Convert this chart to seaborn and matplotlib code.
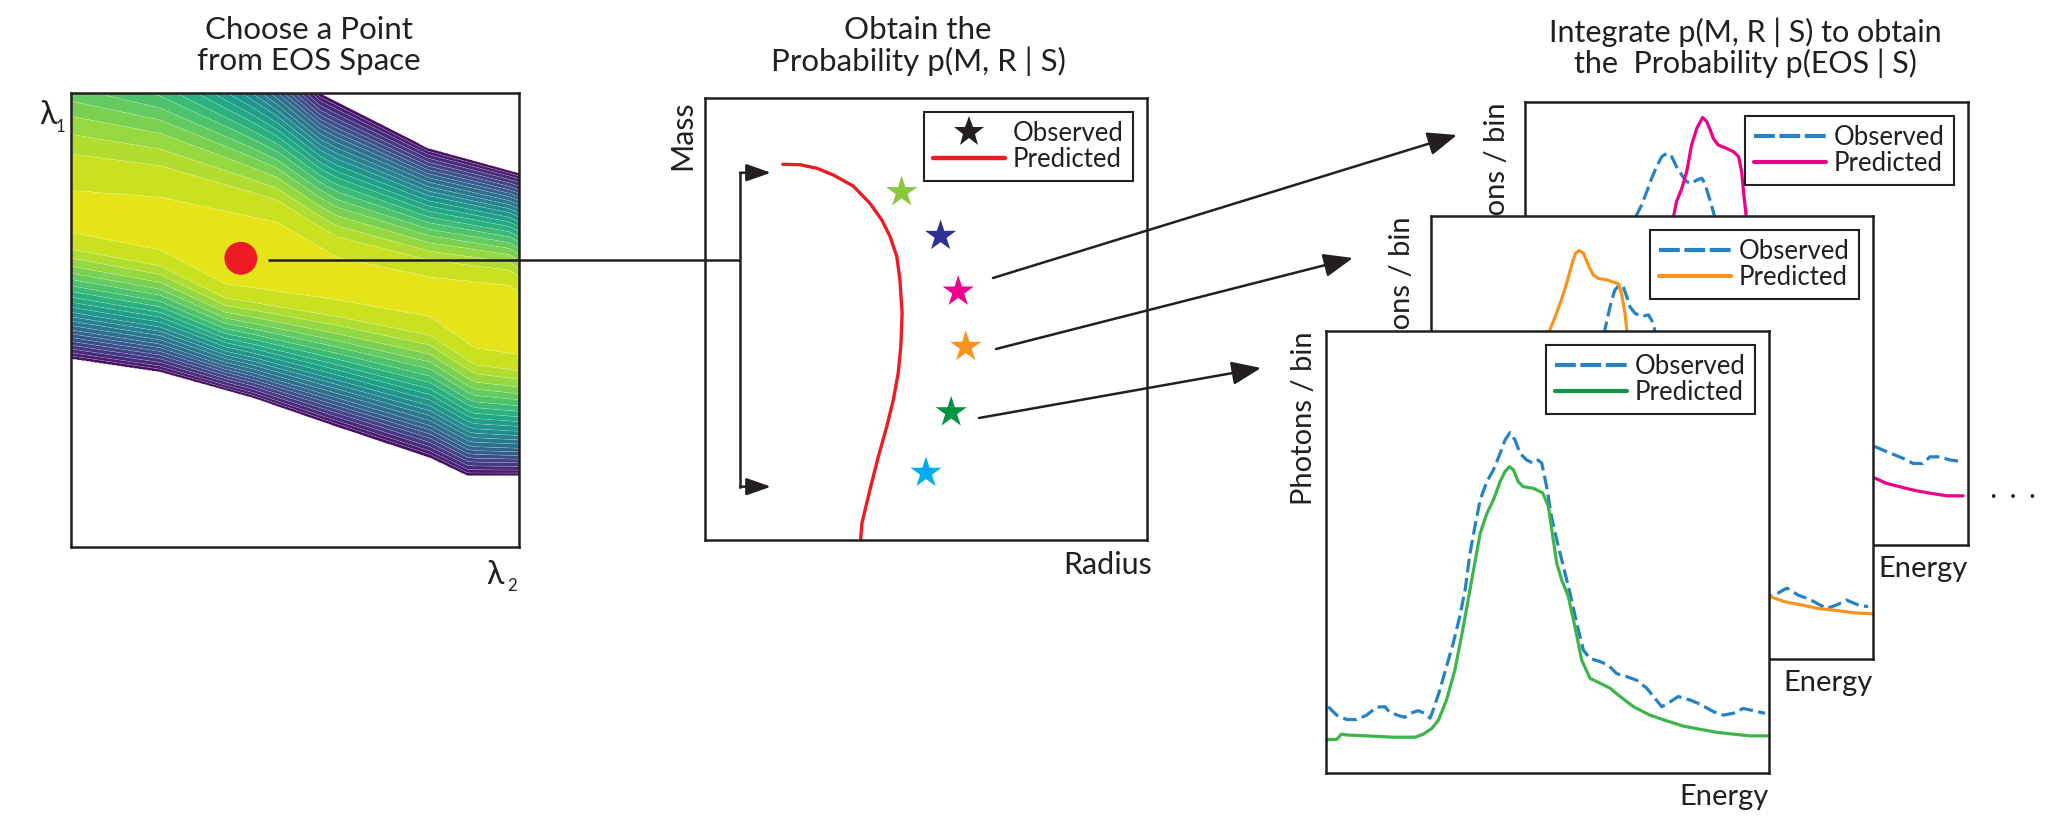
import numpy as np
import pandas as pd
import matplotlib
matplotlib.use("Agg")
import matplotlib.pyplot as plt
import seaborn as sns
from matplotlib.patches import FancyArrowPatch
from matplotlib.lines import Line2D

# ===================== DATA =====================
# Panel 1: EOS space ridge (lambda2 0..1 left->right, lambda1 0..1 bottom->top)
ridge_top_l2 = [0.0, 0.199, 0.460, 0.594, 0.801, 0.978, 1.0]
ridge_top_l1 = [0.786, 0.771, 0.716, 0.639, 0.595, 0.577, 0.562]
ridge_bot_l2 = [0.0, 0.199, 0.344, 0.594, 0.801, 0.902, 1.0]
ridge_bot_l1 = [0.692, 0.654, 0.579, 0.544, 0.507, 0.438, 0.423]
edge_up_l2 = [0.0, 0.199, 0.40, 0.556, 0.797, 1.0]
edge_up_l1 = [1.40, 1.30, 1.14, 1.0, 0.879, 0.824]
edge_lo_l2 = [0.0, 0.199, 0.406, 0.594, 0.801, 0.886, 1.0]
edge_lo_l1 = [0.414, 0.385, 0.328, 0.264, 0.196, 0.156, 0.156]
# normalised distances (ridge -> edge) of the contour band boundaries
band_edges = [0.0001, 0.13, 0.20, 0.265, 0.32, 0.37, 0.42, 0.465, 0.51, 0.55,
              0.59, 0.63, 0.665, 0.70, 0.735, 0.77, 0.80, 0.83, 0.86, 0.89,
              0.92, 0.95, 0.975, 1.0]
chosen_l2, chosen_l1 = 0.379, 0.636

# Panel 2: mass-radius curve and observed stars (normalised units)
mr_radius = [0.176, 0.215, 0.253, 0.290, 0.335, 0.373, 0.400, 0.419, 0.434, 0.441,
             0.446, 0.443, 0.437, 0.426, 0.411, 0.392, 0.373, 0.355, 0.352]
mr_mass = [0.850, 0.849, 0.841, 0.826, 0.801, 0.762, 0.724, 0.686, 0.641, 0.588,
           0.513, 0.437, 0.377, 0.317, 0.256, 0.188, 0.113, 0.038, 0.0]
star_names = ["s1", "s2", "s3", "s4", "s5", "s6"]
star_radius = [0.445, 0.533, 0.573, 0.590, 0.557, 0.500]
star_mass = [0.787, 0.688, 0.562, 0.437, 0.289, 0.152]
star_colors = ["#8dc63f", "#2e3192", "#ec008c", "#f7941d", "#009444", "#00aeef"]

# Panel 3: spectra (energy 0..1, photons/bin 0..1)
front_pred_E = [0.0015, 0.024, 0.035, 0.047, 0.092, 0.152, 0.201, 0.220, 0.239, 0.254,
                0.272, 0.291, 0.310, 0.329, 0.348, 0.363, 0.378, 0.393, 0.404, 0.414,
                0.423, 0.434, 0.445, 0.468, 0.489, 0.502, 0.513, 0.521, 0.532, 0.547,
                0.562, 0.577, 0.596, 0.619, 0.641, 0.664, 0.694, 0.731, 0.769, 0.807,
                0.844, 0.882, 0.919, 0.957, 0.998]
front_pred_C = [0.076, 0.076, 0.088, 0.086, 0.084, 0.081, 0.081, 0.088, 0.101, 0.120,
                0.165, 0.233, 0.331, 0.437, 0.542, 0.587, 0.618, 0.659, 0.682, 0.693,
                0.686, 0.659, 0.648, 0.644, 0.634, 0.603, 0.527, 0.474, 0.437, 0.399,
                0.331, 0.256, 0.214, 0.203, 0.192, 0.173, 0.150, 0.131, 0.118, 0.106,
                0.099, 0.092, 0.088, 0.084, 0.084]
front_obs_E = [0.005, 0.024, 0.047, 0.069, 0.092, 0.114, 0.133, 0.144, 0.167, 0.178,
               0.190, 0.208, 0.223, 0.235, 0.242, 0.257, 0.272, 0.287, 0.302, 0.314,
               0.325, 0.336, 0.348, 0.363, 0.378, 0.393, 0.404, 0.415, 0.427, 0.438,
               0.453, 0.468, 0.479, 0.487, 0.498, 0.509, 0.521, 0.536, 0.551, 0.566,
               0.581, 0.596, 0.619, 0.637, 0.656, 0.679, 0.701, 0.724, 0.739, 0.758,
               0.777, 0.795, 0.822, 0.844, 0.874, 0.897, 0.919, 0.942, 0.965, 0.991]
front_obs_C = [0.150, 0.131, 0.121, 0.121, 0.131, 0.149, 0.150, 0.137, 0.129, 0.126,
               0.135, 0.141, 0.135, 0.124, 0.143, 0.188, 0.241, 0.293, 0.354, 0.414,
               0.497, 0.557, 0.618, 0.659, 0.686, 0.723, 0.753, 0.770, 0.753, 0.723,
               0.708, 0.701, 0.708, 0.701, 0.648, 0.580, 0.527, 0.467, 0.406, 0.339,
               0.278, 0.259, 0.252, 0.244, 0.225, 0.218, 0.210, 0.192, 0.173, 0.150,
               0.161, 0.173, 0.165, 0.156, 0.139, 0.131, 0.135, 0.146, 0.141, 0.135]

mid_pred_E = [0.0, 0.05, 0.10, 0.15, 0.20, 0.24, 0.26, 0.269, 0.284, 0.296, 0.307, 0.318,
              0.327, 0.335, 0.345, 0.356, 0.367, 0.379, 0.397, 0.409, 0.424, 0.431, 0.439,
              0.443, 0.46, 0.48, 0.50, 0.53, 0.56, 0.60, 0.65, 0.70, 0.767, 0.801, 0.839,
              0.876, 0.914, 0.959, 1.0]
mid_pred_C = [0.08, 0.08, 0.08, 0.085, 0.10, 0.35, 0.60, 0.743, 0.780, 0.814, 0.848, 0.889,
              0.916, 0.922, 0.916, 0.889, 0.867, 0.859, 0.856, 0.852, 0.847, 0.825, 0.780,
              0.743, 0.55, 0.40, 0.30, 0.25, 0.21, 0.19, 0.17, 0.155, 0.141, 0.129, 0.122,
              0.114, 0.110, 0.104, 0.102]
mid_obs_E = [0.0, 0.05, 0.10, 0.15, 0.20, 0.25, 0.30, 0.34, 0.37, 0.385, 0.394, 0.400,
             0.407, 0.416, 0.426, 0.435, 0.443, 0.450, 0.462, 0.477, 0.492, 0.499, 0.505,
             0.52, 0.54, 0.57, 0.60, 0.65, 0.70, 0.74, 0.771, 0.805, 0.831, 0.854, 0.880,
             0.895, 0.918, 0.940, 0.967, 0.989]
mid_obs_C = [0.15, 0.13, 0.15, 0.14, 0.15, 0.14, 0.15, 0.20, 0.45, 0.65, 0.746, 0.773,
             0.803, 0.833, 0.844, 0.840, 0.818, 0.795, 0.780, 0.773, 0.777, 0.765, 0.750,
             0.60, 0.42, 0.28, 0.24, 0.21, 0.18, 0.16, 0.141, 0.160, 0.144, 0.136, 0.122,
             0.114, 0.122, 0.133, 0.122, 0.118]

back_pred_E = [0.0, 0.1, 0.2, 0.28, 0.31, 0.325, 0.336, 0.342, 0.354, 0.365, 0.376, 0.388,
               0.401, 0.410, 0.418, 0.425, 0.436, 0.451, 0.470, 0.482, 0.489, 0.494, 0.499,
               0.51, 0.53, 0.56, 0.60, 0.65, 0.70, 0.75, 0.790, 0.816, 0.876, 0.914, 0.952,
               0.989]
back_pred_C = [0.12, 0.12, 0.125, 0.14, 0.35, 0.60, 0.745, 0.775, 0.805, 0.843, 0.903, 0.941,
               0.965, 0.956, 0.937, 0.918, 0.903, 0.897, 0.888, 0.877, 0.843, 0.790, 0.745,
               0.50, 0.35, 0.27, 0.23, 0.20, 0.18, 0.165, 0.151, 0.139, 0.124, 0.117, 0.111,
               0.111]
back_obs_E = [0.0, 0.1, 0.2, 0.23, 0.245, 0.252, 0.263, 0.275, 0.286, 0.297, 0.309, 0.320,
              0.331, 0.342, 0.354, 0.365, 0.376, 0.388, 0.399, 0.406, 0.414, 0.421, 0.427,
              0.44, 0.46, 0.50, 0.55, 0.60, 0.65, 0.70, 0.75, 0.790, 0.816, 0.862, 0.876,
              0.898, 0.914, 0.937, 0.959, 0.989]
back_obs_C = [0.20, 0.19, 0.21, 0.40, 0.65, 0.745, 0.767, 0.798, 0.828, 0.854, 0.877, 0.884,
              0.877, 0.854, 0.835, 0.820, 0.816, 0.824, 0.828, 0.816, 0.790, 0.767, 0.745,
              0.55, 0.40, 0.30, 0.27, 0.25, 0.24, 0.235, 0.23, 0.222, 0.211, 0.192, 0.184,
              0.184, 0.199, 0.199, 0.192, 0.188]

# ===================== STYLE / LAYOUT =====================
INK = "#231f20"
RED = "#ed1c24"
BLUE = "#2681c5"
sns.set_theme(style="white")
plt.rcParams["font.family"] = ["Lato", "DejaVu Sans"]
plt.rcParams["text.color"] = INK

W, H = 2054, 822
fig = plt.figure(figsize=(W / 100, H / 100), dpi=100, facecolor="white")


def rect(l, t, r, b):
    return [l / W, 1 - b / H, (r - l) / W, (b - t) / H]


def frame(ax):
    ax.set_xlim(0, 1)
    ax.set_ylim(0, 1)
    ax.set_xticks([])
    ax.set_yticks([])
    ax.set_xlabel("")
    ax.set_ylabel("")
    ax.set_facecolor("white")
    for s in ax.spines.values():
        s.set_visible(True)
        s.set_color(INK)
        s.set_linewidth(1.8)


def box_legend(ax, handles, labels):
    leg = ax.legend(handles, labels, loc="upper right", fontsize=18.5, frameon=True,
                    fancybox=False, framealpha=1, edgecolor=INK, handlelength=2.8,
                    handletextpad=0.3, borderpad=0.35, labelspacing=0.05,
                    borderaxespad=0.55)
    leg.get_frame().set_linewidth(1.5)
    for t in leg.get_texts():
        t.set_color(INK)
    return leg


# ---------- Panel 1: EOS space ----------
ax1 = fig.add_axes(rect(71, 93, 519, 547))
l2 = np.linspace(0, 1, 700)
l1 = np.linspace(0, 1, 700)
X, Y = np.meshgrid(l2, l1)
yt = np.interp(l2, ridge_top_l2, ridge_top_l1)[None, :]
yb = np.interp(l2, ridge_bot_l2, ridge_bot_l1)[None, :]
zu = np.interp(l2, edge_up_l2, edge_up_l1)[None, :]
zl = np.interp(l2, edge_lo_l2, edge_lo_l1)[None, :]
T = np.where(Y > yt, (Y - yt) / (zu - yt), np.where(Y < yb, (yb - Y) / (yb - zl), 0.0))
Z = np.where(T <= 1.0, 1.0 - T, np.nan)
levels = sorted(1.0 - np.array(band_edges)) + [1.0 + 1e-6]
cols = sns.color_palette("viridis", len(levels) - 1)
ax1.contourf(X, Y, Z, levels=levels, colors=cols, antialiased=True)
ax1.contour(X, Y, Z, levels=levels[1:-1], colors="white", linewidths=0.5, alpha=0.25)
sns.scatterplot(x=[chosen_l2], y=[chosen_l1], color=RED, s=560, edgecolor="none",
                ax=ax1, zorder=6, legend=False)
frame(ax1)
ax1.text(-0.032, 0.952, "λ", transform=ax1.transAxes, ha="right", va="center", fontsize=23)
ax1.text(-0.014, 0.925, "1", transform=ax1.transAxes, ha="right", va="center", fontsize=12)
ax1.text(0.966, -0.062, "λ", transform=ax1.transAxes, ha="right", va="center", fontsize=23)
ax1.text(0.996, -0.085, "2", transform=ax1.transAxes, ha="right", va="center", fontsize=12)

# ---------- Panel 2: Mass-Radius ----------
ax2 = fig.add_axes(rect(705, 98, 1147, 540))
sns.lineplot(x=mr_radius, y=mr_mass, sort=False, estimator=None, color=RED, lw=2.4, ax=ax2)
sns.scatterplot(x=star_radius, y=star_mass, hue=star_names,
                palette=dict(zip(star_names, star_colors)), marker="*", s=560,
                edgecolor="none", legend=False, ax=ax2, zorder=5)
frame(ax2)
box_legend(ax2,
           [Line2D([0], [0], marker="*", ls="", color=INK, markersize=23, markeredgewidth=0),
            Line2D([0], [0], color=RED, lw=3.2)],
           ["Observed", "Predicted"])
ax2.text(-0.052, 0.995, "Mass", rotation=90, transform=ax2.transAxes, ha="center",
         va="top", fontsize=22)
ax2.text(1.012, -0.057, "Radius", transform=ax2.transAxes, ha="right", va="center",
         fontsize=22)


# ---------- Panel 3: stacked spectra ----------
def spectrum_panel(box, eo, co, ep, cp, pcol, lcol, ylab_x):
    ax = fig.add_axes(rect(*box))
    sns.lineplot(x=eo, y=co, sort=False, estimator=None, color=BLUE, lw=2.3, ax=ax)
    ax.lines[-1].set_dashes([4.3, 1.7])
    sns.lineplot(x=ep, y=cp, sort=False, estimator=None, color=pcol, lw=2.3, ax=ax)
    frame(ax)
    h_obs = Line2D([0], [0], color=BLUE, lw=3.0, dashes=[5.0, 1.1])
    h_pred = Line2D([0], [0], color=lcol, lw=3.0)
    box_legend(ax, [h_obs, h_pred], ["Observed", "Predicted"])
    ax.text(ylab_x, 1.0, "Photons / bin", rotation=90, transform=ax.transAxes,
            ha="center", va="top", fontsize=21)
    ax.text(1.0, -0.054, "Energy", transform=ax.transAxes, ha="right", va="center",
            fontsize=21)
    return ax


spectrum_panel((1525, 102, 1968, 545), back_obs_E, back_obs_C, back_pred_E, back_pred_C,
               "#ec008c", "#ec008c", -0.063)
spectrum_panel((1431, 216, 1873, 659), mid_obs_E, mid_obs_C, mid_pred_E, mid_pred_C,
               "#f7941d", "#f7941d", -0.065)
spectrum_panel((1326, 331, 1769, 773), front_obs_E, front_obs_C, front_pred_E, front_pred_C,
               "#3db54a", "#0f9548", -0.05)

# ---------- titles ----------
fig.text(309 / W, 1 - 45.5 / H, "Choose a Point\nfrom EOS Space", ha="center",
         va="center", fontsize=22.5, linespacing=1.12)
fig.text(918 / W, 1 - 46 / H, "Obtain the\nProbability p(M, R | S)", ha="center",
         va="center", fontsize=22.5, linespacing=1.12)
fig.text(1745 / W, 1 - 48 / H, "Integrate p(M, R | S) to obtain\nthe  Probability p(EOS | S)",
         ha="center", va="center", fontsize=22, linespacing=1.08)
fig.text(2013 / W, 1 - 497 / H, "•   •   •", ha="center", va="center", fontsize=9,
         family=["DejaVu Sans"])

# ---------- connectors (figure pixel space) ----------
ov = fig.add_axes([0, 0, 1, 1])
ov.set_xlim(0, W)
ov.set_ylim(H, 0)
ov.axis("off")
ov.patch.set_alpha(0)

dot_line = [(268, 260.5), (740, 260.5)]
bracket = [(740, 172.7), (740, 486.7)]
bracket_arrows = [((740, 172.7), (771, 172.7)), ((740, 486.7), (771, 486.7))]
star_arrows = [((993, 278), (1457, 135)), ((996, 349), (1353, 258)), ((979, 418), (1261, 368))]

ov.plot([p[0] for p in dot_line], [p[1] for p in dot_line], color=INK, lw=1.8,
        solid_capstyle="butt")
ov.plot([p[0] for p in bracket], [p[1] for p in bracket], color=INK, lw=1.8,
        solid_capstyle="projecting")
for a, b in bracket_arrows:
    ov.add_patch(FancyArrowPatch(a, b, arrowstyle="-|>,head_length=1.0,head_width=0.35",
                                 mutation_scale=15, lw=1.8, color=INK, shrinkA=0, shrinkB=0))
for a, b in star_arrows:
    ov.add_patch(FancyArrowPatch(a, b, arrowstyle="-|>,head_length=1.0,head_width=0.4",
                                 mutation_scale=18, lw=1.8, color=INK, shrinkA=0, shrinkB=0))

fig.savefig("out.png", dpi=100, facecolor="white")
